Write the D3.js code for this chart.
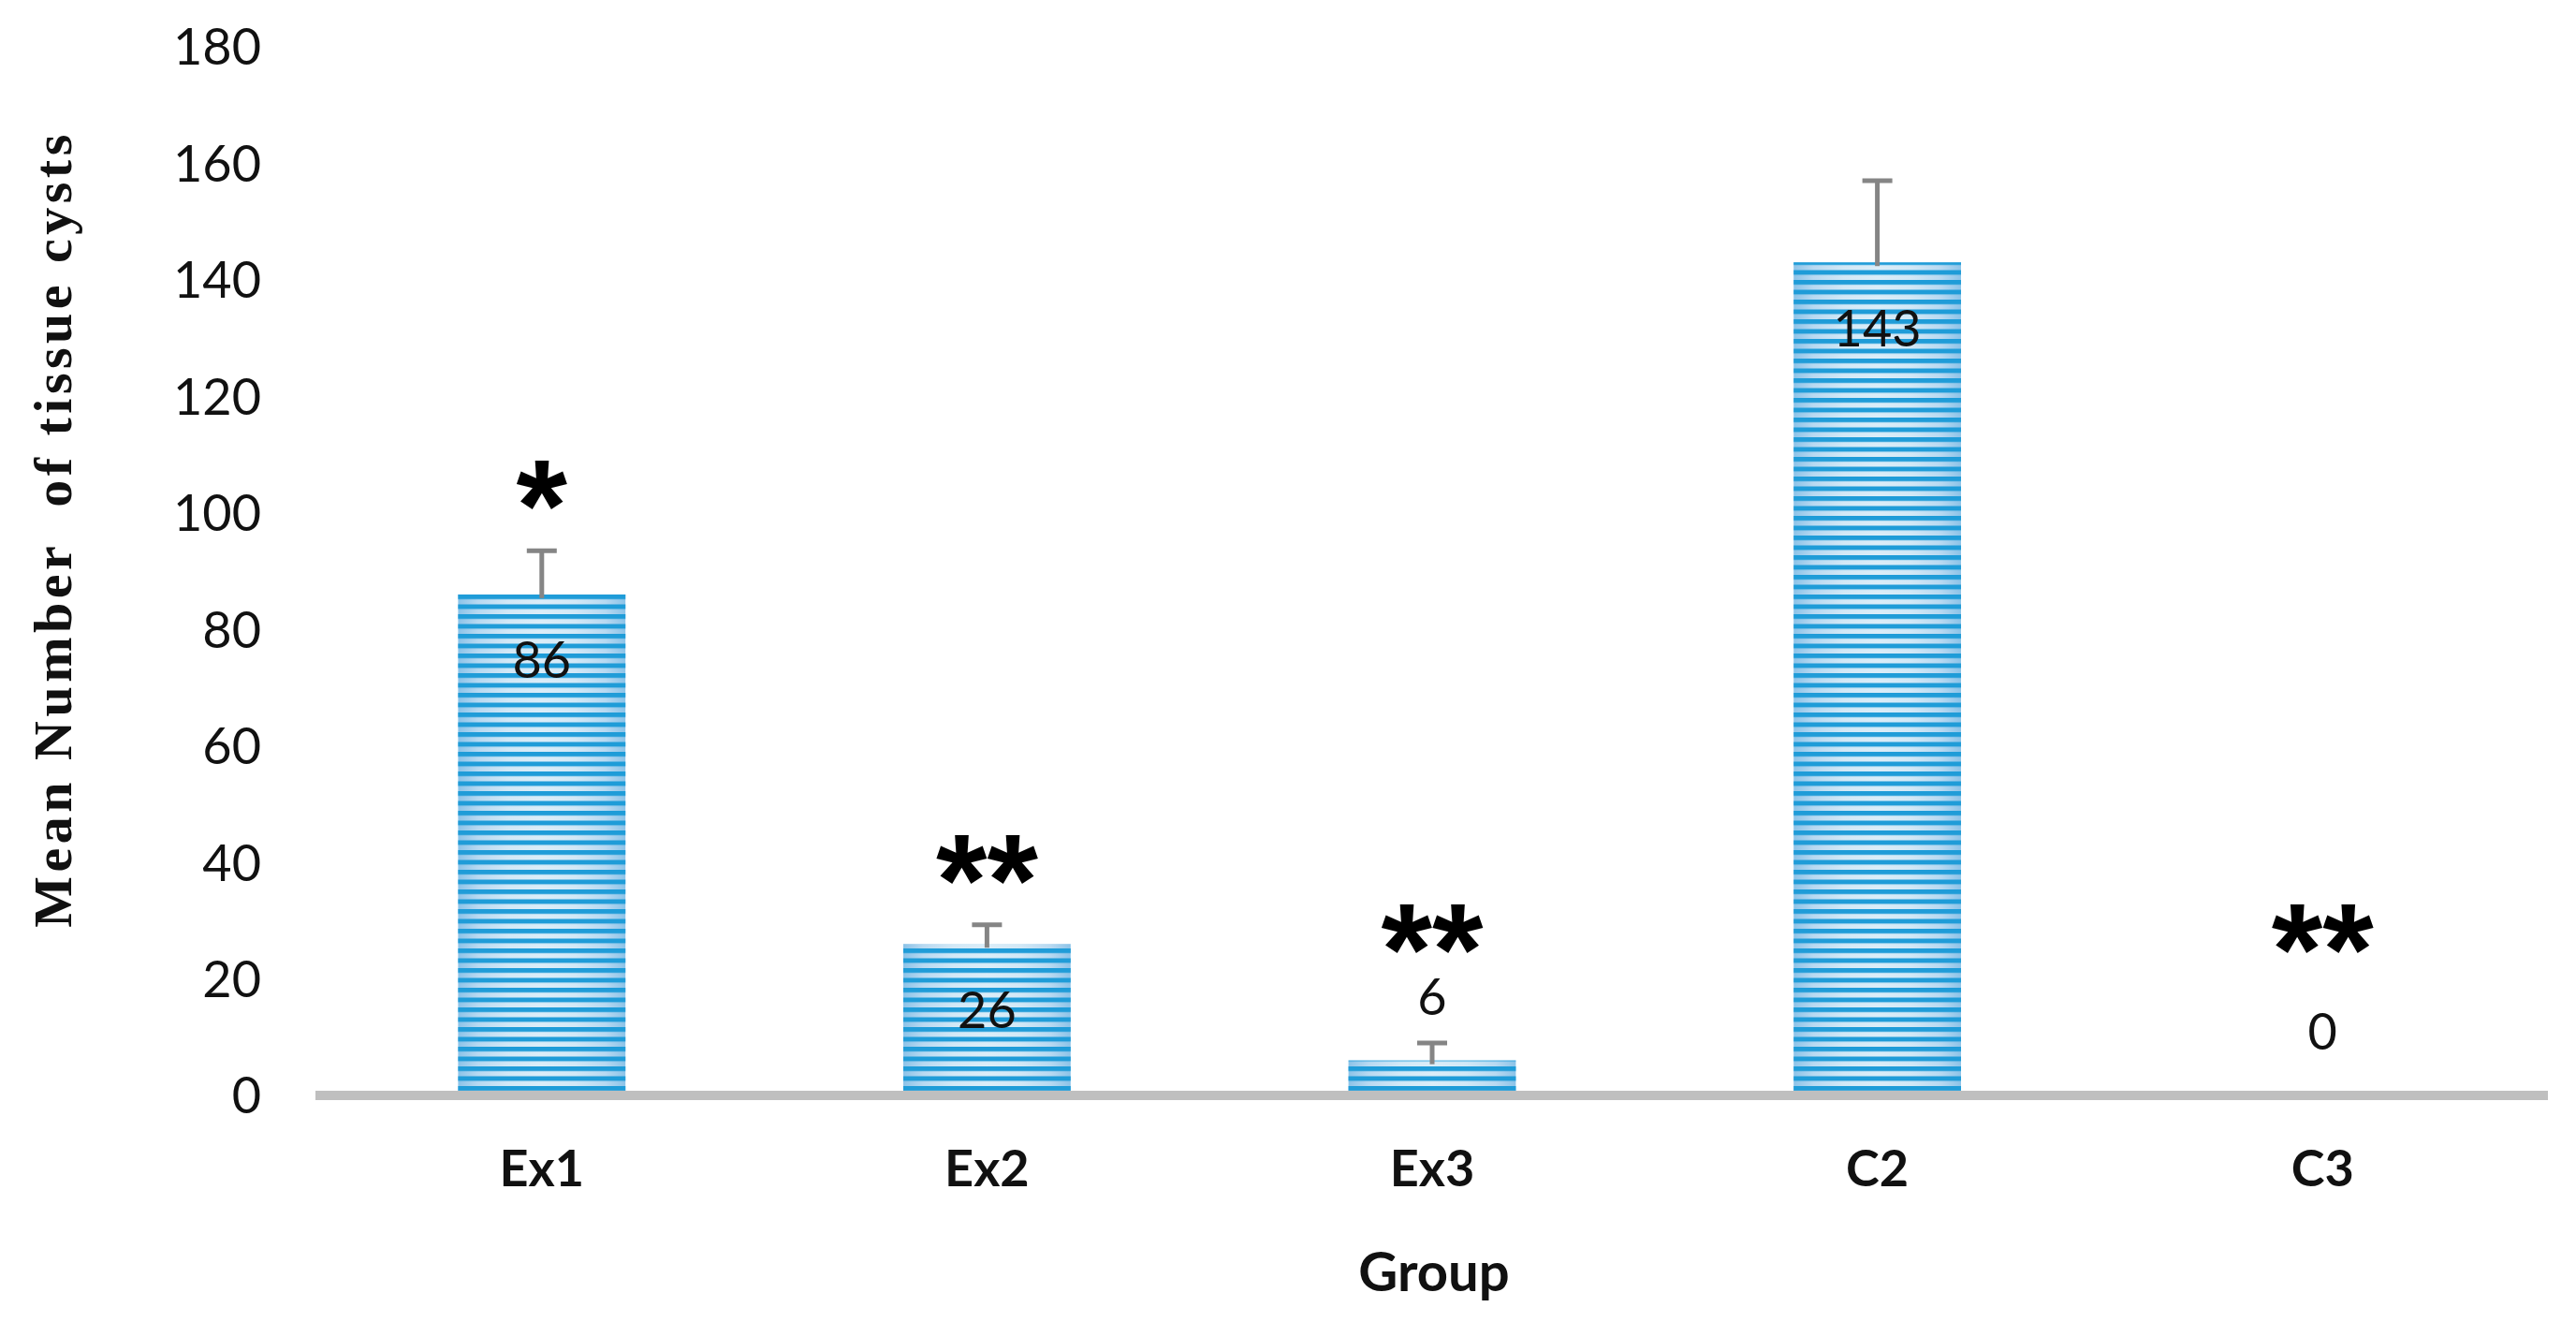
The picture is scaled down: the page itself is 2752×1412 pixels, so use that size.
<!DOCTYPE html>
<html>
<head>
<meta charset="utf-8">
<script src="https://cdn.jsdelivr.net/npm/d3@7"></script>
<style>
  body { margin: 0; background: #fff; }
  svg { display: block; }
</style>
</head>
<body>
<svg id="chart" width="2752" height="1412"></svg>
<script>
// Chart data
const groups = ['Ex1', 'Ex2', 'Ex3', 'C2', 'C3']
const means = [86, 26, 6, 143, 0]
const errors = [7.5, 3.3, 3, 14, 0]
const stars = ['*', '**', '**', '', '**']
const yTicks = [0, 20, 40, 60, 80, 100, 120, 140, 160, 180]

const svg = d3.select('#chart')

const x = d3.scaleBand()
    .domain(groups)
    .range([341, 2719])
    .paddingInner(0.624)
    .paddingOuter(0.312)

const y = d3.scaleLinear()
    .domain([0, 180])
    .range([1170, 50])

// Bar fill: light horizontal gradient under narrow blue stripes
const defs = svg.append('defs')
const grad = defs.append('linearGradient')
    .attr('id', 'barGrad')
    .attr('x1', '0%').attr('x2', '100%')
    .attr('y1', '0%').attr('y2', '0%')
;[[0, '#8cc3e8'], [0.12, '#b8d9f1'], [0.3, '#d2e8f6'], [0.5, '#dbedf8'],
  [0.7, '#d2e8f6'], [0.88, '#b8d9f1'], [1, '#8cc3e8']].forEach(s => {
    grad.append('stop').attr('offset', s[0]).attr('stop-color', s[1])
})

const stripe = defs.append('pattern')
    .attr('id', 'stripes')
    .attr('patternUnits', 'userSpaceOnUse')
    .attr('width', 20)
    .attr('height', 10.5)
    .attr('y', 5)
stripe.append('rect')
    .attr('x', 0).attr('y', 0)
    .attr('width', 20).attr('height', 5)
    .attr('fill', '#1f9cd8')

const rows = groups.map((g, i) => ({
    group: g, mean: means[i], err: errors[i], star: stars[i]
}))

const bars = svg.append('g')

bars.selectAll('rect.base')
    .data(rows)
    .enter()
    .append('rect')
    .attr('class', 'base')
    .attr('x', d => x(d.group))
    .attr('y', d => y(d.mean))
    .attr('width', x.bandwidth())
    .attr('height', d => y(0) - y(d.mean))
    .attr('fill', 'url(#barGrad)')

bars.selectAll('rect.stripe')
    .data(rows)
    .enter()
    .append('rect')
    .attr('class', 'stripe')
    .attr('x', d => x(d.group))
    .attr('y', d => y(d.mean))
    .attr('width', x.bandwidth())
    .attr('height', d => y(0) - y(d.mean))
    .attr('fill', 'url(#stripes)')

// Error bars (plus direction only)
const errG = svg.append('g')
    .attr('stroke', '#858585')
    .attr('stroke-width', 5)

const withErr = rows.filter(d => d.err > 0)
const cx = d => x(d.group) + x.bandwidth() / 2

errG.selectAll('line.stem')
    .data(withErr)
    .enter()
    .append('line')
    .attr('x1', cx).attr('x2', cx)
    .attr('y1', d => y(d.mean) + 4)
    .attr('y2', d => y(d.mean + d.err))

errG.selectAll('line.cap')
    .data(withErr)
    .enter()
    .append('line')
    .attr('x1', d => cx(d) - 16).attr('x2', d => cx(d) + 16)
    .attr('y1', d => y(d.mean + d.err))
    .attr('y2', d => y(d.mean + d.err))

// Horizontal axis line
svg.append('line')
    .attr('x1', 337).attr('x2', 2722)
    .attr('y1', y(0)).attr('y2', y(0))
    .attr('stroke', '#bfbfbf')
    .attr('stroke-width', 10)

// Y tick labels
svg.append('g')
    .selectAll('text')
    .data(yTicks)
    .enter()
    .append('text')
    .attr('x', 279)
    .attr('y', d => y(d))
    .attr('dy', '0.36em')
    .attr('text-anchor', 'end')
    .attr('font-family', 'Lato, sans-serif')
    .attr('font-size', 54)
    .attr('fill', '#111')
    .text(d => d)

// Category labels
svg.append('g')
    .selectAll('text')
    .data(groups)
    .enter()
    .append('text')
    .attr('x', d => x(d) + x.bandwidth() / 2)
    .attr('y', 1248)
    .attr('dy', '0.36em')
    .attr('text-anchor', 'middle')
    .attr('font-family', 'Lato, sans-serif')
    .attr('font-weight', 'bold')
    .attr('font-size', 54)
    .attr('fill', '#111')
    .text(d => d)

// Value labels: inside the bar top, or above it when the bar is short
const labelY = d => d.mean >= 20 ? y(d.mean) + 70 : y(d.mean) - 68

svg.append('g')
    .selectAll('text')
    .data(rows)
    .enter()
    .append('text')
    .attr('x', cx)
    .attr('y', labelY)
    .attr('dy', '0.36em')
    .attr('text-anchor', 'middle')
    .attr('font-family', 'Lato, sans-serif')
    .attr('font-size', 54)
    .attr('fill', '#111')
    .text(d => d3.format('d')(d.mean))

// Significance stars
const starY = d => Math.min(y(d.mean + d.err) - 72, y(29))

svg.append('g')
    .selectAll('text')
    .data(rows.filter(d => d.star))
    .enter()
    .append('text')
    .attr('x', cx)
    .attr('y', d => starY(d) + 72)
    .attr('text-anchor', 'middle')
    .attr('font-family', '"Liberation Sans", Arial, sans-serif')
    .attr('font-weight', 'bold')
    .attr('font-size', 140)
    .attr('fill', '#000')
    .text(d => d.star)

// Axis titles
svg.append('text')
    .attr('x', 1532)
    .attr('y', 1358)
    .attr('dy', '0.36em')
    .attr('text-anchor', 'middle')
    .attr('font-family', 'Lato, sans-serif')
    .attr('font-weight', 'bold')
    .attr('font-size', 58)
    .attr('fill', '#111')
    .text('Group')

svg.append('text')
    .attr('transform', 'translate(76,565) rotate(-90)')
    .attr('text-anchor', 'middle')
    .attr('font-family', '"Liberation Serif", "Times New Roman", serif')
    .attr('font-weight', 'bold')
    .attr('font-size', 58)
    .attr('letter-spacing', 4.5)
    .attr('xml:space', 'preserve')
    .attr('fill', '#111')
    .text('Mean Number  of tissue cysts')
</script>
</body>
</html>
